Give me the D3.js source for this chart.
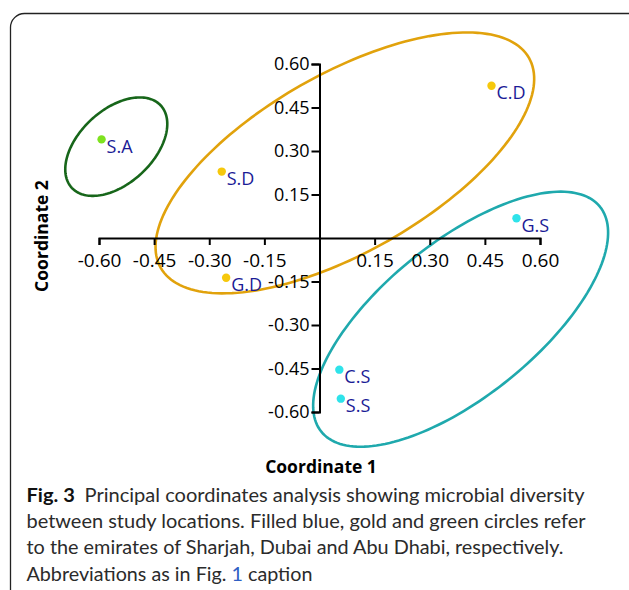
<!DOCTYPE html>
<html>
<head>
<meta charset="utf-8">
<script src="https://cdn.jsdelivr.net/npm/d3@7"></script>
<style>
  html, body { margin: 0; padding: 0; background: #fff; }
  svg { display: block; }
</style>
</head>
<body>
<svg id="chart" width="629" height="590"></svg>
<script>
// Sample sites (PCoA scores)
const sites   = ["S.A", "S.D", "G.D", "C.D", "G.S", "C.S", "S.S"];
const coord1  = [-0.593, -0.266, -0.254, 0.468, 0.536, 0.054, 0.058];
const coord2  = [0.340, 0.229, -0.137, 0.525, 0.068, -0.454, -0.554];
const emirate = ["Abu Dhabi", "Dubai", "Dubai", "Dubai", "Sharjah", "Sharjah", "Sharjah"];

// Tick values for both axes (zero is left unlabelled)
const tickValues = [-0.60, -0.45, -0.30, -0.15, 0.15, 0.30, 0.45, 0.60];

// Group ellipses: centre, semi-major and semi-minor vectors, all in coordinate units
const ellipseGroups  = ["Abu Dhabi", "Dubai", "Sharjah"];
const ellipseCenter  = [[-0.553, 0.315], [0.069, 0.259], [0.384, -0.280]];
const ellipseMajor   = [[0.121, 0.142], [0.501, 0.362], [0.379, 0.388]];
const ellipseMinor   = [[0.068, -0.093], [0.120, -0.267], [0.132, -0.207]];

const pointColor = { "Abu Dhabi": "#7ee21f", "Dubai": "#f6c80c", "Sharjah": "#2fe3ea" };
const ringColor  = { "Abu Dhabi": "#17661a", "Dubai": "#e1a20c", "Sharjah": "#1fa9ad" };

const captionLines = [
  "Principal coordinates analysis showing microbial diversity",
  "between study locations. Filled blue, gold and green circles refer",
  "to the emirates of Sharjah, Dubai and Abu Dhabi, respectively.",
  "caption"
];

const svg = d3.select("#chart");

// Figure frame
svg.append("rect")
  .attr("x", 10.5).attr("y", 13.5)
  .attr("width", 640).attr("height", 640)
  .attr("rx", 14)
  .attr("fill", "none")
  .attr("stroke", "#222")
  .attr("stroke-width", 1.3);

const x = d3.scaleLinear().domain([-0.6, 0.6]).range([99, 540]);
const y = d3.scaleLinear().domain([-0.6, 0.6]).range([412, 64]);

// Two decimals, plain hyphen for negatives
const tickFmt = v => d3.format(".2f")(v).replace("\u2212", "-");
const tickFont = "'Open Sans', 'Noto Sans', sans-serif";

// Ellipses
const ringLine = d3.line().curve(d3.curveLinearClosed);
const tSteps = d3.range(0, 2 * Math.PI, Math.PI / 90);
ellipseGroups.forEach((g, i) => {
  const c = ellipseCenter[i], a = ellipseMajor[i], b = ellipseMinor[i];
  const pts = tSteps.map(t => [
    x(c[0] + a[0] * Math.cos(t) + b[0] * Math.sin(t)),
    y(c[1] + a[1] * Math.cos(t) + b[1] * Math.sin(t))
  ]);
  svg.append("path")
    .attr("d", ringLine(pts))
    .attr("fill", "none")
    .attr("stroke", ringColor[g])
    .attr("stroke-width", 2.6);
});

// X axis through the origin
const xAxis = svg.append("g")
  .attr("transform", `translate(0,${y(0)})`)
  .call(d3.axisBottom(x).tickValues(tickValues).tickFormat(tickFmt)
    .tickSize(7).tickSizeOuter(7).tickPadding(9));

// Y axis through the origin
const yAxis = svg.append("g")
  .attr("transform", `translate(${x(0)},0)`)
  .call(d3.axisLeft(y).tickValues(tickValues).tickFormat(tickFmt)
    .tickSize(8).tickSizeOuter(8).tickPadding(2));

[xAxis, yAxis].forEach(ax => {
  ax.select(".domain").attr("stroke", "#000").attr("stroke-width", 2);
  ax.selectAll(".tick line").attr("stroke", "#000").attr("stroke-width", 2);
  ax.selectAll(".tick text")
    .attr("fill", "#000")
    .style("font-family", tickFont);
});
xAxis.selectAll(".tick text").style("font-size", "19px");
yAxis.selectAll(".tick text").style("font-size", "18px");

// Sample points and labels
const pts = sites.map((s, i) => ({ s, x: coord1[i], y: coord2[i], g: emirate[i] }));
svg.append("g").selectAll("circle").data(pts).join("circle")
  .attr("cx", d => x(d.x)).attr("cy", d => y(d.y))
  .attr("r", 4.2)
  .attr("fill", d => pointColor[d.g]);

svg.append("g").selectAll("text").data(pts).join("text")
  .attr("x", d => x(d.x) + 5).attr("y", d => y(d.y) + 13.5)
  .attr("fill", "#1b1b96")
  .style("font-family", tickFont)
  .style("font-size", "18px")
  .text(d => d.s);

// Axis titles
svg.append("text")
  .attr("x", 321).attr("y", 473)
  .attr("text-anchor", "middle")
  .style("font-family", tickFont).style("font-weight", "700").style("font-size", "17.5px")
  .text("Coordinate 1");

svg.append("text")
  .attr("transform", "translate(48,236) rotate(-90)")
  .attr("text-anchor", "middle")
  .style("font-family", tickFont).style("font-weight", "700").style("font-size", "17.5px")
  .text("Coordinate 2");

// Caption
const capFont = "Lato, 'Open Sans', sans-serif";
const capX = 26.5, capY0 = 501.7, capStep = 26.3;
const capWidths = [558, 559, 537, 286];

const cap = svg.append("g")
  .style("font-family", capFont)
  .style("font-size", "18.5px")
  .attr("fill", "#2b2b2b");

const l1 = cap.append("text").attr("x", capX).attr("y", capY0);
l1.append("tspan").style("font-weight", "700").attr("fill", "#111").text("Fig. 3");
l1.append("tspan").attr("dx", 9).text(captionLines[0]);

cap.append("text").attr("x", capX).attr("y", capY0 + capStep).text(captionLines[1]);
cap.append("text").attr("x", capX).attr("y", capY0 + 2 * capStep).text(captionLines[2]);

const l4 = cap.append("text").attr("x", capX).attr("y", capY0 + 3 * capStep);
l4.append("tspan").text("Abbreviations as in Fig. ");
l4.append("tspan").attr("fill", "#2f5fc4").text("1");
l4.append("tspan").text(" " + captionLines[3]);

cap.selectAll("text").each(function(d, i) {
  d3.select(this).attr("textLength", capWidths[i]).attr("lengthAdjust", "spacingAndGlyphs");
});
</script>
</body>
</html>
